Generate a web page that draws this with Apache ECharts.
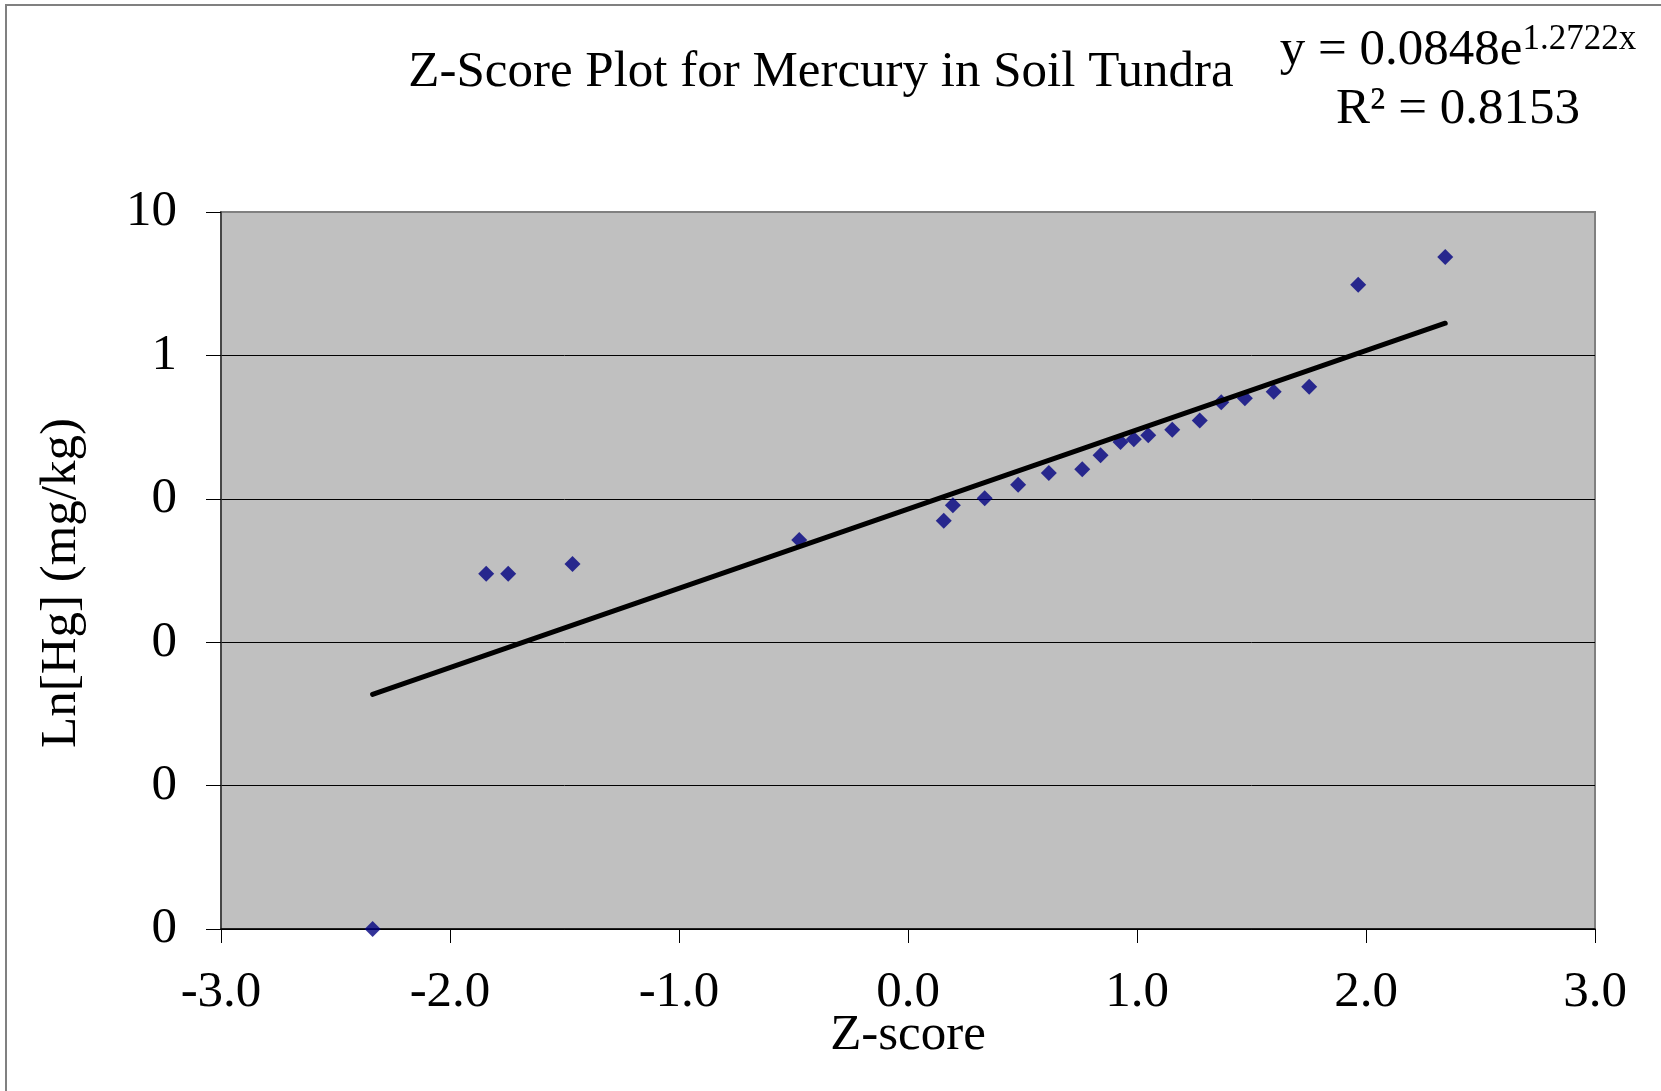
<!DOCTYPE html>
<html>
<head>
<meta charset="utf-8">
<script src="https://cdn.jsdelivr.net/npm/echarts@6/dist/echarts.min.js"></script>
<style>
  html, body { margin: 0; padding: 0; background: #fff; }
  #chart { width: 1661px; height: 1091px; }
</style>
</head>
<body>
<div id="chart"></div>
<script>
// ---- data ----
const zScores = [-2.338, -1.842, -1.746, -1.465, -0.475, 0.156, 0.196, 0.335, 0.481, 0.615,
                 0.761, 0.841, 0.928, 0.986, 1.049, 1.154, 1.274, 1.368, 1.471, 1.597,
                 1.752, 1.966, 2.346];
const hgValues = [0.0001, 0.0300, 0.0300, 0.0351, 0.0516, 0.0703, 0.0901, 0.1008, 0.1254, 0.1514,
                  0.1606, 0.201, 0.249, 0.260, 0.277, 0.303, 0.352, 0.471, 0.502, 0.558,
                  0.605, 3.11, 4.85];
// trendline end points (as drawn)
const trendX = [-2.338, 2.346];
const trendY = [0.00433, 1.677];
const yTickValues = [0.0001, 0.001, 0.01, 0.1, 1, 10];
const yTickLabels = ['0', '0', '0', '0', '1', '10'];
const xTickLabels = ['-3.0', '-2.0', '-1.0', '0.0', '1.0', '2.0', '3.0'];
const titleText = 'Z-Score Plot for Mercury in Soil Tundra';
const eqMain = 'y = 0.0848e';
const eqSup = '1.2722x';
const eqR2 = 'R\u00B2 = 0.8153';
const xName = 'Z-score';
const yName = 'Ln[Hg] (mg/kg)';

const FONT = '"Liberation Serif", "Times New Roman", serif';
const FS = 51;
const SUPFS = 35;

const ctx = document.createElement('canvas').getContext('2d');
ctx.font = FS + 'px "Liberation Serif"';
const wMain = ctx.measureText(eqMain).width;
ctx.font = SUPFS + 'px "Liberation Serif"';
const wSup = ctx.measureText(eqSup).width;
const eqCenter = 1458;
const eqStart = eqCenter - (wMain + wSup) / 2;

const chart = echarts.init(document.getElementById('chart'), null, { renderer: 'canvas' });
chart.setOption({
  backgroundColor: '#ffffff',
  animation: false,
  grid: {
    left: 221, top: 212, right: 66, bottom: 162,
    show: true, backgroundColor: '#C0C0C0', borderColor: '#808080', borderWidth: 2
  },
  xAxis: {
    type: 'value', min: -3, max: 3, interval: 1,
    axisLine: { show: true, onZero: false, lineStyle: { color: '#000', width: 1.5 } },
    axisTick: { show: true, length: 14, lineStyle: { color: '#000', width: 1 } },
    splitLine: { show: false },
    axisLabel: {
      margin: 38, color: '#000', fontFamily: FONT, fontSize: FS,
      formatter: function (v) { return xTickLabels[Math.round(v) + 3]; }
    }
  },
  yAxis: {
    type: 'log', logBase: 10, min: 0.0001, max: 10,
    axisLine: { show: true, onZero: false, lineStyle: { color: '#333', width: 1.5 } },
    axisTick: { show: true, length: 15, lineStyle: { color: '#000', width: 1 } },
    splitLine: { show: true, lineStyle: { color: ['#000', '#000', '#000', '#000', '#000', '#808080'], width: 1 } },
    axisLabel: {
      margin: 44, color: '#000', fontFamily: FONT, fontSize: FS,
      formatter: function (v) {
        const i = Math.round(Math.log10(v)) + 4;
        return yTickLabels[i];
      }
    }
  },
  series: [
    {
      type: 'scatter',
      data: zScores.map((z, i) => [z, hgValues[i]]),
      symbol: 'diamond', symbolSize: 16,
      itemStyle: { color: '#000080' },
      z: 2
    },
    {
      type: 'line',
      data: trendX.map((x, i) => [x, trendY[i]]),
      symbol: 'none',
      lineStyle: { color: '#000', width: 5, cap: 'round' },
      z: 3
    }
  ],
  graphic: [
    {
      type: 'rect', silent: true, z: -10,
      shape: { x: 6, y: 5, width: 1700, height: 1200 },
      style: { fill: 'none', stroke: '#808080', lineWidth: 2 }
    },
    {
      type: 'text', x: 821, y: 73,
      style: { text: titleText, font: FS + 'px ' + FONT, fill: '#000', textAlign: 'center', textVerticalAlign: 'middle' }
    },
    {
      type: 'text', x: eqStart, y: 51,
      style: { text: eqMain, font: FS + 'px ' + FONT, fill: '#000', textAlign: 'left', textVerticalAlign: 'middle' }
    },
    {
      type: 'text', x: eqStart + wMain, y: 40,
      style: { text: eqSup, font: SUPFS + 'px ' + FONT, fill: '#000', textAlign: 'left', textVerticalAlign: 'middle' }
    },
    {
      type: 'text', x: eqCenter, y: 110,
      style: { text: eqR2, font: FS + 'px ' + FONT, fill: '#000', textAlign: 'center', textVerticalAlign: 'middle' }
    },
    {
      type: 'text', x: 908, y: 1036,
      style: { text: xName, font: FS + 'px ' + FONT, fill: '#000', textAlign: 'center', textVerticalAlign: 'middle' }
    },
    {
      type: 'text', x: 62, y: 583, rotation: Math.PI / 2,
      style: { text: yName, font: FS + 'px ' + FONT, fill: '#000', textAlign: 'center', textVerticalAlign: 'middle' }
    }
  ]
});
</script>
</body>
</html>
